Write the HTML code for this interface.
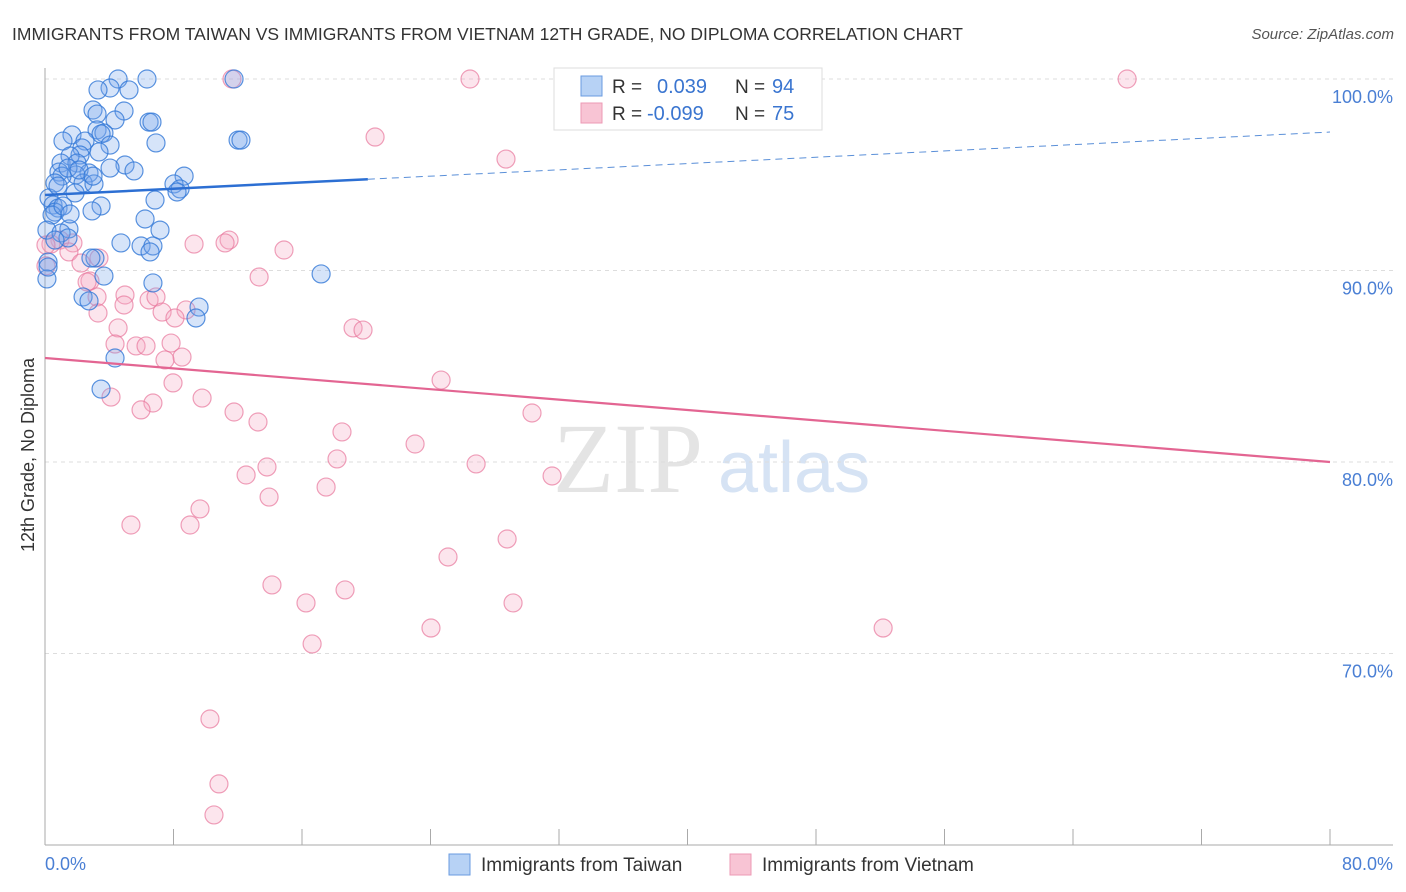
<!DOCTYPE html>
<html><head><meta charset="utf-8"><style>
html,body{margin:0;padding:0;background:#fff;width:1406px;height:892px;overflow:hidden;font-family:"Liberation Sans",sans-serif}
svg{position:absolute;left:0;top:0}
</style></head><body>
<svg id="c" width="1406" height="892">
<text x="12" y="40" font-size="17.5" fill="#333">IMMIGRANTS FROM TAIWAN VS IMMIGRANTS FROM VIETNAM 12TH GRADE, NO DIPLOMA CORRELATION CHART</text>
<text x="1394" y="39" font-size="15" fill="#555" font-style="italic" text-anchor="end">Source: ZipAtlas.com</text>
<g>
<text x="553" y="492" font-size="100" font-family="Liberation Serif,serif" fill="#e4e4e4">ZIP</text>
<text x="718" y="492" font-size="72" fill="#d6e3f4">atlas</text>
</g>
<g id="grid"></g>
<g id="axes"></g>
<g id="pts"></g>
<g id="trend"></g>
<text transform="translate(34,455) rotate(-90)" font-size="18" fill="#333" text-anchor="middle">12th Grade, No Diploma</text>
<g>
<rect x="554" y="68" width="268" height="62" fill="#fff" stroke="#ddd"/>
<rect x="581" y="76" width="21" height="20" fill="#b7d2f5" stroke="#6a9be0"/>
<rect x="581" y="103" width="21" height="20" fill="#f8c4d4" stroke="#ec9ab5"/>
<text x="612" y="93" font-size="19" fill="#333">R =</text>
<text x="657" y="93" font-size="20" fill="#3a75d0">0.039</text>
<text x="735" y="93" font-size="19" fill="#333">N =</text>
<text x="772" y="93" font-size="20" fill="#3a75d0">94</text>
<text x="612" y="120" font-size="19" fill="#333">R =</text>
<text x="647" y="120" font-size="20" fill="#3a75d0">-0.099</text>
<text x="735" y="120" font-size="19" fill="#333">N =</text>
<text x="772" y="120" font-size="20" fill="#3a75d0">75</text>
</g>
<g>
<rect x="449" y="854" width="21" height="21" fill="#b7d2f5" stroke="#6a9be0"/>
<text x="481" y="871" font-size="19" fill="#333">Immigrants from Taiwan</text>
<rect x="730" y="854" width="21" height="21" fill="#f8c4d4" stroke="#ec9ab5"/>
<text x="762" y="871" font-size="19" fill="#333">Immigrants from Vietnam</text>
</g>
</svg>
<script>
const blueX=[4.55,6.35,11.77,4.05,3.30,5.23,2.99,4.92,3.24,4.36,6.48,6.66,3.24,3.67,3.49,1.68,1.12,2.49,6.91,12.02,12.20,4.05,2.30,3.36,2.18,1.56,1.00,4.98,1.99,4.05,5.54,0.87,2.74,1.93,1.06,8.66,0.62,2.37,3.05,8.03,8.41,8.22,1.87,0.25,6.85,3.49,0.50,0.81,2.93,0.62,6.23,0.44,1.49,0.12,1.00,7.16,1.43,4.73,5.98,6.72,6.54,0.19,3.11,2.86,3.67,6.72,0.12,17.19,2.37,2.74,9.59,9.40,4.36,3.49,0.19,0.62,0.81,1.43,2.12,2.99,1.12,1.56];
const blueY=[100,100,100,99.53,99.43,99.43,98.38,98.33,98.17,97.86,97.75,97.75,97.34,97.18,97.13,97.08,96.76,96.76,96.66,96.81,96.81,96.55,96.40,96.19,96.03,95.98,95.61,95.51,95.61,95.35,95.20,95.14,95.09,94.99,94.93,94.93,94.57,94.57,94.52,94.52,94.26,94.10,94.05,93.79,93.68,93.37,93.42,93.26,93.11,93.05,92.69,92.90,92.17,92.11,91.96,92.11,91.70,91.44,91.28,91.28,90.97,90.44,90.65,90.65,89.71,89.35,89.56,89.82,88.62,88.41,88.09,87.52,85.43,83.81,90.18,91.59,94.41,95.35,95.25,94.93,93.37,92.95];
const pinkX=[11.64,26.46,43.28,67.37,20.55,28.70,0.93,1.74,0.37,0.06,11.46,11.21,9.28,14.88,1.49,3.36,2.24,2.80,2.62,0.06,13.33,4.98,3.24,6.48,6.91,4.92,8.78,7.29,8.09,3.30,4.55,19.18,19.80,4.36,5.67,6.29,7.85,8.53,7.47,24.66,7.97,4.11,9.78,6.72,5.98,11.77,30.32,13.26,18.49,23.04,18.18,26.84,13.82,31.57,12.52,13.95,17.50,5.35,9.65,9.03,25.09,28.77,14.13,18.68,16.25,29.14,24.03,52.18,16.63,10.27,10.83,10.52];
const pinkY=[100,100,100,100,96.97,95.82,91.59,91.44,91.38,91.33,91.59,91.44,91.38,91.07,90.97,90.65,90.39,89.45,89.40,90.24,89.66,88.72,88.62,88.46,88.62,88.20,87.94,87.83,87.52,87.78,87.00,87.00,86.89,86.16,86.06,86.06,86.21,85.48,85.33,84.28,84.13,83.39,83.34,83.08,82.72,82.61,82.56,82.09,81.57,80.94,80.16,79.90,79.74,79.27,79.32,78.17,78.69,76.71,77.55,76.71,75.04,75.98,73.58,73.32,72.64,72.64,71.33,71.33,70.50,66.58,63.19,61.57];
const yTicks=[100,90,80,70];
const yTickLabels=["100.0%","90.0%","80.0%","70.0%"];
const xTicks=[0,8,16,24,32,40,48,56,64,72,80];
const xEndLabels=["0.0%","80.0%"];
const blueTrend=[93.94,97.23];
const blueSolidEnd=20.1;
const pinkTrend=[85.43,80.0];

const NS="http://www.w3.org/2000/svg";
const X=v=>45+v*(1285/80);
const Y=v=>79+(100-v)*19.15;
function mk(tag,attrs,parent){const e=document.createElementNS(NS,tag);for(const k in attrs)e.setAttribute(k,attrs[k]);parent.appendChild(e);return e;}
const grid=document.getElementById('grid'),axes=document.getElementById('axes'),pts=document.getElementById('pts'),trend=document.getElementById('trend');
yTicks.forEach((t,i)=>{
  const l=mk('line',{x1:45,x2:1393,y1:Y(t),y2:Y(t),stroke:'#ddd','stroke-dasharray':'4,4'},grid);
  
  
  const tx=mk('text',{x:1393,y:Y(t)+24,'font-size':18,fill:'#4a7fd4','text-anchor':'end'},axes);
  tx.textContent=yTickLabels[i];
  
  
});
mk('line',{x1:45,x2:45,y1:68,y2:845,stroke:'#aaa'},axes);
mk('line',{x1:45,x2:1393,y1:845,y2:845,stroke:'#aaa'},axes);
xTicks.forEach(t=>{
  const l=mk('line',{x1:X(t),x2:X(t),y1:829,y2:845,stroke:'#aaa'},axes);
  
  
});
const xl0=mk('text',{x:45,y:870,'font-size':18,fill:'#4a7fd4'},axes);xl0.textContent=xEndLabels[0];


const xl1=mk('text',{x:1393,y:870,'font-size':18,fill:'#4a7fd4','text-anchor':'end'},axes);xl1.textContent=xEndLabels[1];


pinkX.forEach((x,i)=>{
  const c=mk('circle',{cx:X(x),cy:Y(pinkY[i]),r:9,fill:'rgba(246,170,194,0.3)',stroke:'rgba(232,120,156,0.7)','stroke-width':1.2},pts);
  
  
});
blueX.forEach((x,i)=>{
  const c=mk('circle',{cx:X(x),cy:Y(blueY[i]),r:9,fill:'rgba(120,165,235,0.3)',stroke:'rgba(50,120,215,0.8)','stroke-width':1.2},pts);
  
  
});
const bAt=x=>blueTrend[0]+(blueTrend[1]-blueTrend[0])*x/80;
const b1=mk('line',{x1:X(0),y1:Y(bAt(0)),x2:X(blueSolidEnd),y2:Y(bAt(blueSolidEnd)),stroke:'#2c6fd3','stroke-width':2.5},trend);


const b2=mk('line',{x1:X(blueSolidEnd),y1:Y(bAt(blueSolidEnd)),x2:X(80),y2:Y(bAt(80)),stroke:'#5a8fd8','stroke-width':1,'stroke-dasharray':'7,5'},trend);


const p1=mk('line',{x1:X(0),y1:Y(pinkTrend[0]),x2:X(80),y2:Y(pinkTrend[1]),stroke:'#e36592','stroke-width':2.2},trend);


</script>
</body></html>
